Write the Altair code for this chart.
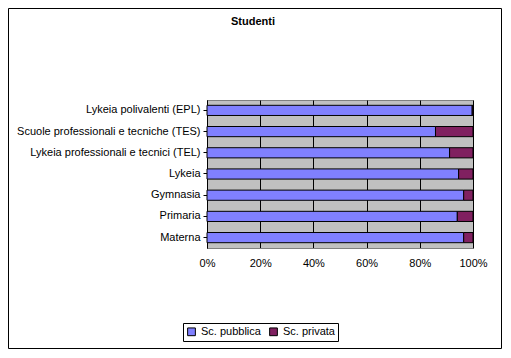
import altair as alt
import pandas as pd

categories = ["Lykeia polivalenti (EPL)", "Scuole professionali e tecniche (TES)",
              "Lykeia professionali e tecnici (TEL)", "Lykeia", "Gymnasia", "Primaria", "Materna"]
pubblica = [99.7, 85.9, 91.2, 94.6, 96.5, 94.1, 96.5]
privata = [round(100 - v, 1) for v in pubblica]
series = ["Sc. pubblica", "Sc. privata"]
colors = ["#8080FF", "#802060"]
title_text = "Studenti"

rows = []
for c, a, b in zip(categories, pubblica, privata):
    rows.append({"cat": c, "serie": series[0], "val": a, "ord": 0})
    rows.append({"cat": c, "serie": series[1], "val": b, "ord": 1})
df = pd.DataFrame(rows)

W, H = 266, 148
PL, PT, PR, PB = 199, 92, 30, 102

one = pd.DataFrame({"a": [0]})

bars = alt.Chart(df).mark_bar(stroke="black", strokeWidth=1).encode(
    y=alt.Y("cat:N", sort=categories, title=None,
            scale=alt.Scale(paddingInner=0.52, paddingOuter=0.25),
            axis=alt.Axis(labelFont="Liberation Sans", labelFontSize=11, labelColor="black",
                          domainColor="black", tickColor="black", tickSize=4,
                          labelPadding=3, labelLimit=300)),
    x=alt.X("val:Q", stack="normalize", title=None,
            axis=alt.Axis(format="%", values=[0, 0.2, 0.4, 0.6, 0.8, 1.0],
                          labelFont="Liberation Sans", labelFontSize=11, labelColor="black",
                          grid=True, gridColor="black", gridWidth=1, labelFlush=False,
                          domainColor="#808080", ticks=False, labelPadding=9)),
    color=alt.Color("serie:N", scale=alt.Scale(domain=series, range=colors),
                    legend=alt.Legend(title=None, orient="none", legendX=-24, legendY=223,
                                      direction="horizontal", symbolType="square",
                                      symbolStrokeColor="black", symbolStrokeWidth=1,
                                      symbolSize=60, labelFont="Liberation Sans",
                                      labelFontSize=11, labelColor="black",
                                      strokeColor="black", padding=3, columnPadding=6)),
    order=alt.Order("ord:Q"),
)

frame = alt.Chart(one).mark_rect(
    fill="transparent", stroke="black", strokeWidth=1
).encode(
    x=alt.value(-PL + 0.5), x2=alt.value(W + PR - 1.5),
    y=alt.value(-PT + 0.5), y2=alt.value(H + PB - 1.5),
)

title = alt.Chart(pd.DataFrame({"t": [title_text]})).mark_text(
    font="Liberation Sans", fontSize=11, fontWeight="bold", color="black",
    align="center", baseline="middle"
).encode(text="t:N", x=alt.value(46), y=alt.value(-78))

chart = alt.layer(bars, frame, title).properties(
    width=W, height=H,
    padding={"left": PL, "top": PT, "right": PR, "bottom": PB},
    autosize=alt.AutoSizeParams(type="none"),
).configure_view(fill="#C0C0C0", stroke="#808080")

chart.save("out.html", embed_options={"renderer": "svg", "actions": False})
